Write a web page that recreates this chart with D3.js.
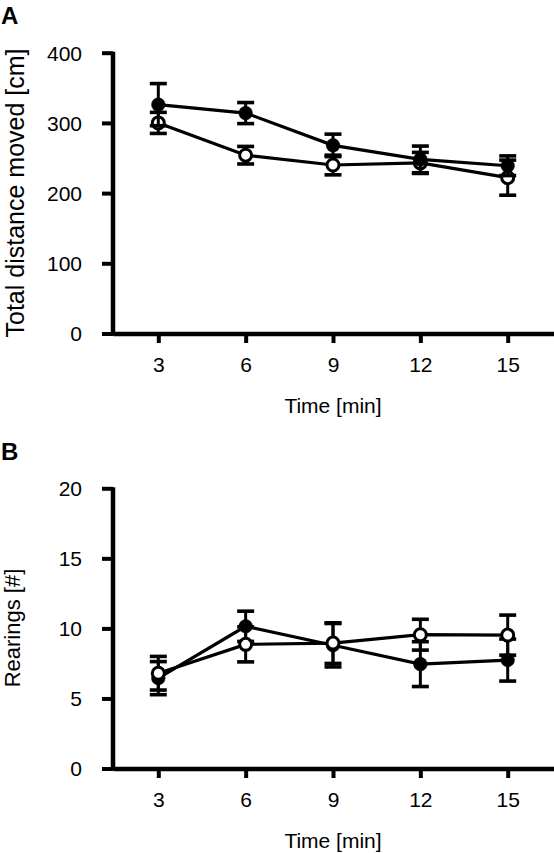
<!DOCTYPE html>
<html>
<head>
<meta charset="utf-8">
<script src="https://cdn.jsdelivr.net/npm/d3@7"></script>
<style>
  html, body { margin: 0; padding: 0; background: #fff; }
  svg { display: block; font-family: "Liberation Sans", Arial, sans-serif; }
</style>
</head>
<body>
<svg id="chart" width="554" height="853"></svg>
<script>
// ---- data ----
const times = [3, 6, 9, 12, 15];
const timeTicks = [3, 6, 9, 12, 15];

const distFilled    = [326, 314, 268, 248, 239];
const distFilledSem = [30, 15, 16, 19, 14];
const distOpen      = [300, 254, 240, 243, 222];
const distOpenSem   = [15, 12.5, 14, 15, 25];
const distTicks     = [0, 100, 200, 300, 400];

const rearFilled    = [6.45, 10.15, 8.8, 7.45, 7.74];
const rearFilledSem = [1.18, 1.08, 1.55, 1.6, 1.5];
const rearOpen      = [6.8, 8.86, 8.95, 9.55, 9.52];
const rearOpenSem   = [1.2, 1.25, 1.45, 1.1, 1.43];
const rearTicks     = [0, 5, 10, 15, 20];

const svg = d3.select("#chart");

function drawPanel(cfg) {
  const x = d3.scaleLinear().domain([1.444, 16.59]).range([113, 554]);
  const y = d3.scaleLinear().domain(cfg.yDomain).range([cfg.yBottom, cfg.yTop]);
  const g = svg.append("g");

  // panel letter
  g.append("text").attr("x", 1).attr("y", cfg.letterY)
    .attr("font-size", 24).attr("font-weight", "bold").text(cfg.letter);

  // y axis
  const ya = g.append("g").attr("transform", `translate(113,0)`)
    .call(d3.axisLeft(y).tickValues(cfg.yTicks).tickSize(11).tickSizeOuter(0).tickFormat(d3.format("d")));
  ya.select(".domain").attr("stroke", "#000").attr("stroke-width", 4.5)
    .attr("d", `M0,${cfg.yTop - 1}V${cfg.yBottom + 2}`);
  ya.selectAll(".tick line").attr("stroke", "#000").attr("stroke-width", 4);
  ya.selectAll(".tick text").attr("x", -31).attr("dy", "0.35em")
    .attr("font-size", 21).attr("fill", "#000")
    .style("font-family", "'Liberation Sans', Arial, sans-serif");

  // x axis
  const xa = g.append("g").attr("transform", `translate(0,${cfg.yBottom})`)
    .call(d3.axisBottom(x).tickValues(timeTicks).tickSize(9.5).tickSizeOuter(0));
  xa.select(".domain").attr("stroke", "#000").attr("stroke-width", 4.5);
  xa.selectAll(".tick line").attr("stroke", "#000").attr("stroke-width", 4);
  xa.selectAll(".tick text").attr("y", 31.5).attr("dy", "0.35em")
    .attr("font-size", 21).attr("fill", "#000")
    .style("font-family", "'Liberation Sans', Arial, sans-serif");

  // axis titles
  g.append("text").attr("x", 333).attr("y", cfg.yBottom + 72).attr("dy", "0.35em")
    .attr("text-anchor", "middle").attr("font-size", 21).text("Time [min]");
  g.append("text")
    .attr("transform", `translate(${cfg.yTitleX},${cfg.yTitleY}) rotate(-90)`)
    .attr("text-anchor", "middle").attr("font-size", cfg.yTitleSize).text(cfg.yTitle);

  const line = d3.line().x((d) => x(d.t)).y((d) => y(d.v));

  cfg.series.forEach((s) => {
    const pts = times.map((t, i) => ({ t: t, v: s.values[i], e: s.sem[i] }));
    const sg = g.append("g");
    sg.append("path").datum(pts).attr("d", line)
      .attr("fill", "none").attr("stroke", "#000").attr("stroke-width", 3.2);
    // error bars
    pts.forEach((p) => {
      sg.append("line").attr("x1", x(p.t)).attr("x2", x(p.t))
        .attr("y1", y(p.v - p.e)).attr("y2", y(p.v + p.e))
        .attr("stroke", "#000").attr("stroke-width", 3);
      [p.v - p.e, p.v + p.e].forEach((vv) => {
        sg.append("line").attr("x1", x(p.t) - 8.5).attr("x2", x(p.t) + 8.5)
          .attr("y1", y(vv)).attr("y2", y(vv))
          .attr("stroke", "#000").attr("stroke-width", 3.6);
      });
    });
    sg.selectAll("circle").data(pts).join("circle")
      .attr("cx", (d) => x(d.t)).attr("cy", (d) => y(d.v))
      .attr("r", s.filled ? 6.8 : 6)
      .attr("fill", s.filled ? "#000" : "#fff")
      .attr("stroke", "#000").attr("stroke-width", s.filled ? 0.5 : 3);
  });
}

drawPanel({
  letter: "A", letterY: 23.5,
  yDomain: [0, 400], yTop: 52.7, yBottom: 333.5, yTicks: distTicks,
  yTitle: "Total distance moved [cm]", yTitleX: 23.5, yTitleY: 193, yTitleSize: 25,
  series: [
    { values: distOpen, sem: distOpenSem, filled: false },
    { values: distFilled, sem: distFilledSem, filled: true }
  ]
});

drawPanel({
  letter: "B", letterY: 459.5,
  yDomain: [0, 20], yTop: 488.3, yBottom: 768.5, yTicks: rearTicks,
  yTitle: "Rearings [#]", yTitleX: 19.5, yTitleY: 628, yTitleSize: 22,
  series: [
    { values: rearFilled, sem: rearFilledSem, filled: true },
    { values: rearOpen, sem: rearOpenSem, filled: false }
  ]
});
</script>
</body>
</html>
